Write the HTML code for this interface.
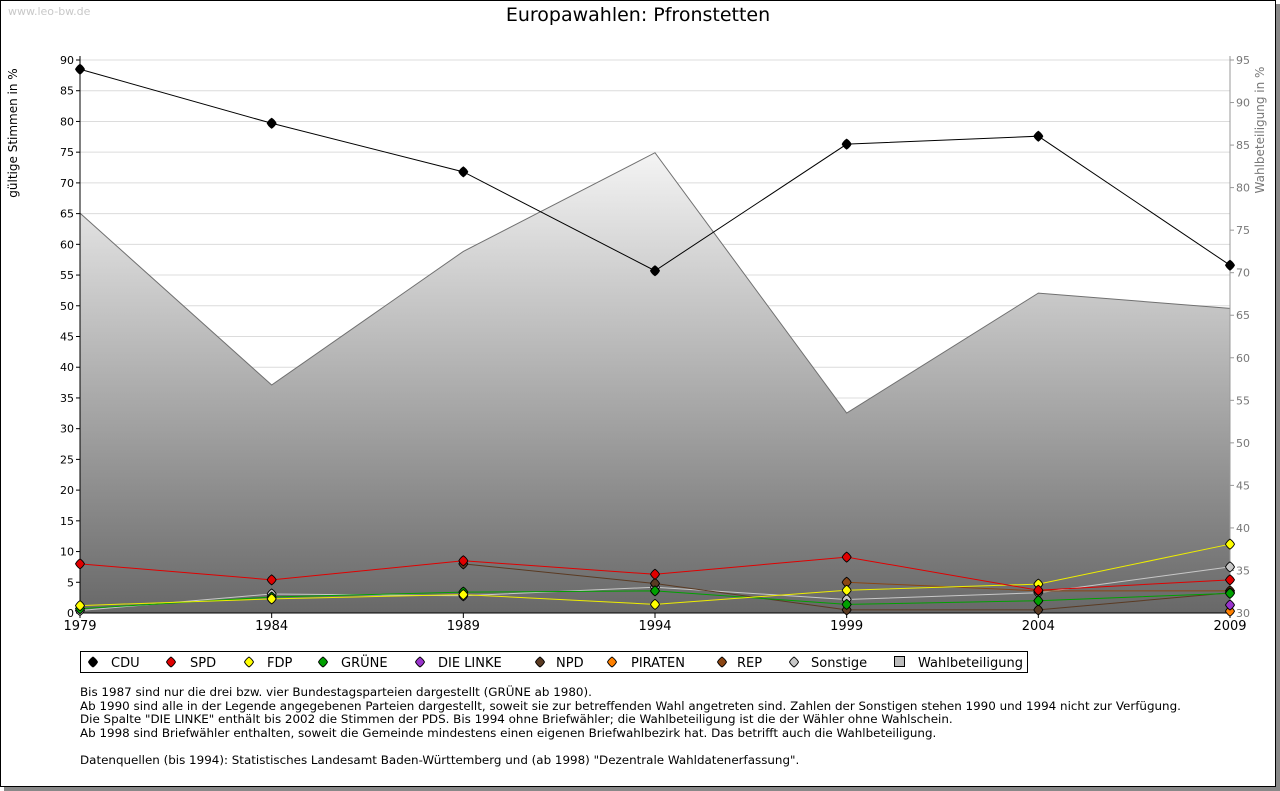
<!DOCTYPE html>
<html><head><meta charset="utf-8"><style>
body{margin:0;width:1280px;height:791px;background:#fff;font-family:"DejaVu Sans","Liberation Sans",sans-serif;overflow:hidden}
#frame{position:absolute;left:0;top:0;width:1274px;height:785px;border:1px solid #000;box-shadow:4px 4px 0 #888;background:#fff}
.notes{position:absolute;left:80px;top:686px;font-size:11.9px;line-height:13.5px;color:#000}
svg text{font-family:"DejaVu Sans","Liberation Sans",sans-serif}
</style></head><body>
<div id="frame"></div>
<svg id="c" width="1280" height="791" style="position:absolute;left:0;top:0"></svg>
<div class="notes">Bis 1987 sind nur die drei bzw. vier Bundestagsparteien dargestellt (GRÜNE ab 1980).<br>Ab 1990 sind alle in der Legende angegebenen Parteien dargestellt, soweit sie zur betreffenden Wahl angetreten sind. Zahlen der Sonstigen stehen 1990 und 1994 nicht zur Verfügung.<br>Die Spalte "DIE LINKE" enthält bis 2002 die Stimmen der PDS. Bis 1994 ohne Briefwähler; die Wahlbeteiligung ist die der Wähler ohne Wahlschein.<br>Ab 1998 sind Briefwähler enthalten, soweit die Gemeinde mindestens einen eigenen Briefwahlbezirk hat. Das betrifft auch die Wahlbeteiligung.<br><br>Datenquellen (bis 1994): Statistisches Landesamt Baden-Württemberg und (ab 1998) "Dezentrale Wahldatenerfassung".</div>
<script>
const years=[1979,1984,1989,1994,1999,2004,2009];
const leftTicks=[0,5,10,15,20,25,30,35,40,45,50,55,60,65,70,75,80,85,90];
const rightTicks=[30,35,40,45,50,55,60,65,70,75,80,85,90,95];
const turnout=[77.0,56.8,72.5,84.1,53.5,67.6,65.8];
const cdu=[88.5,79.7,71.8,55.7,76.3,77.6,56.6];
const spd=[8.0,5.4,8.5,6.3,9.1,3.7,5.4];
const fdp=[1.2,2.3,3.0,1.4,3.7,4.7,11.2];
const gruene=[0.7,2.6,3.4,3.6,1.4,2.0,3.2];
const linke=[null,null,null,null,null,null,1.3];
const npd=[null,null,8.0,4.8,0.5,0.5,3.3];
const piraten=[null,null,null,null,null,null,0.3];
const rep=[null,null,null,null,5.0,3.6,3.6];
const sonstige=[0.4,3.1,2.8,4.2,2.2,3.3,7.5];

const NS="http://www.w3.org/2000/svg";
const svg=document.getElementById('c');
const X0=80,X1=1230,YB=613,YT=60;
const x=y=>X0+(y-1979)/(2009-1979)*(X1-X0);
const yl=v=>YB-v/90*(YB-YT);
const yr=v=>YB-(v-30)/65*(YB-YT);
function el(t,a,p){const e=document.createElementNS(NS,t);for(const k in a)e.setAttribute(k,a[k]);(p||svg).appendChild(e);return e;}
function marker(cx,cy,c,p){return el('path',{d:`M${cx},${cy-5}Q${cx+3},${cy-3} ${cx+4.5},${cy}Q${cx+3},${cy+3} ${cx},${cy+5}Q${cx-3},${cy+3} ${cx-4.5},${cy}Q${cx-3},${cy-3} ${cx},${cy-5}Z`,fill:c,stroke:'#000','stroke-width':0.9},p);}

const defs=el('defs',{});
const g=el('linearGradient',{id:'gr',x1:0,y1:0,x2:0,y2:1},defs);
el('stop',{offset:'0','stop-color':'#f4f4f4'},g);el('stop',{offset:'1','stop-color':'#686868'},g);

let t=el('text',{x:8,y:15,'font-size':11,fill:'#c8c8c8'});t.textContent='www.leo-bw.de';

t=el('text',{x:638,y:21,'font-size':19,'text-anchor':'middle'});t.textContent='Europawahlen: Pfronstetten';


leftTicks.forEach(v=>{
  const l=el('line',{x1:X0,x2:X1,y1:yl(v),y2:yl(v),stroke:'#dcdcdc'});
  
  el('line',{x1:X0-4,x2:X0,y1:yl(v),y2:yl(v),stroke:'#000'});
  const tx=el('text',{x:X0-6,y:yl(v)+4,'font-size':11,'text-anchor':'end'});tx.textContent=v;
  
});
let pts=years.map((y,i)=>x(y)+','+yr(turnout[i])).join(' ');
const area=el('polygon',{points:X0+','+YB+' '+pts+' '+X1+','+YB,fill:'url(#gr)'});

el('polyline',{points:pts,fill:'none',stroke:'#707070'});
el('line',{x1:X0,x2:X0,y1:YT-4,y2:YB,stroke:'#000'});
el('line',{x1:X1,x2:X1,y1:YT-4,y2:YB,stroke:'#999'});
el('line',{x1:X0,x2:X1,y1:YB,y2:YB,stroke:'#000'});
rightTicks.forEach(v=>{
  el('line',{x1:X1,x2:X1+4,y1:yr(v),y2:yr(v),stroke:'#999'});
  const tx=el('text',{x:X1+6,y:yr(v)+4,'font-size':11,fill:'#777'});tx.textContent=v;
  
});
years.forEach(y=>{
  el('line',{x1:x(y),x2:x(y),y1:YB,y2:YB+5,stroke:'#000'});
  const tx=el('text',{x:x(y),y:YB+17,'font-size':13,'text-anchor':'middle'});tx.textContent=y;
  
});
t=el('text',{transform:'translate(17,133) rotate(-90)','font-size':12,'text-anchor':'middle'});t.textContent='gültige Stimmen in %';

t=el('text',{transform:'translate(1264,130) rotate(-90)','font-size':12,'text-anchor':'middle',fill:'#777'});t.textContent='Wahlbeteiligung in %';


const series=[
 ['sonstige',sonstige,'#c8c8c8'],['piraten',piraten,'#ff8000'],['rep',rep,'#8b4513'],['npd',npd,'#5a3a22'],
 ['linke',linke,'#9933cc'],['gruene',gruene,'#00a000'],['fdp',fdp,'#ffff00'],['spd',spd,'#e00000'],['cdu',cdu,'#000']];
series.forEach(([n,d,c])=>{
  const p=[];d.forEach((v,i)=>{if(v!=null)p.push(x(years[i])+','+yl(v));});
  const pl=el('polyline',{points:p.join(' '),fill:'none',stroke:c==='#ffff00'?'#eeee00':c,'stroke-width':1});
  
  d.forEach((v,i)=>{if(v==null)return;
    const m=marker(x(years[i]),yl(v),c);
    });
});

const lg=el('g',{});
el('rect',{x:80.5,y:651.5,width:947,height:21,fill:'#fff',stroke:'#000'},lg);
const items=[['CDU','#000',93,111],['SPD','#e00000',171,190],['FDP','#ffff00',249,267],['GRÜNE','#00a000',323,341],['DIE LINKE','#9933cc',420,438],['NPD','#5a3a22',540,556],['PIRATEN','#ff8000',612,631],['REP','#8b4513',722,737],['Sonstige','#c8c8c8',794,811]];
items.forEach(([lab,c,lx,tx0])=>{
  const e=el('g',{},lg);
  marker(lx,662,c,e);
  const tx=el('text',{x:tx0,y:667,'font-size':13},e);tx.textContent=lab;
});
const e=el('g',{},lg);
el('rect',{x:894.5,y:656.5,width:10,height:10,fill:'#bbb',stroke:'#000'},e);
const tx=el('text',{x:918,y:667,'font-size':13},e);tx.textContent='Wahlbeteiligung';
</script>
</body></html>
